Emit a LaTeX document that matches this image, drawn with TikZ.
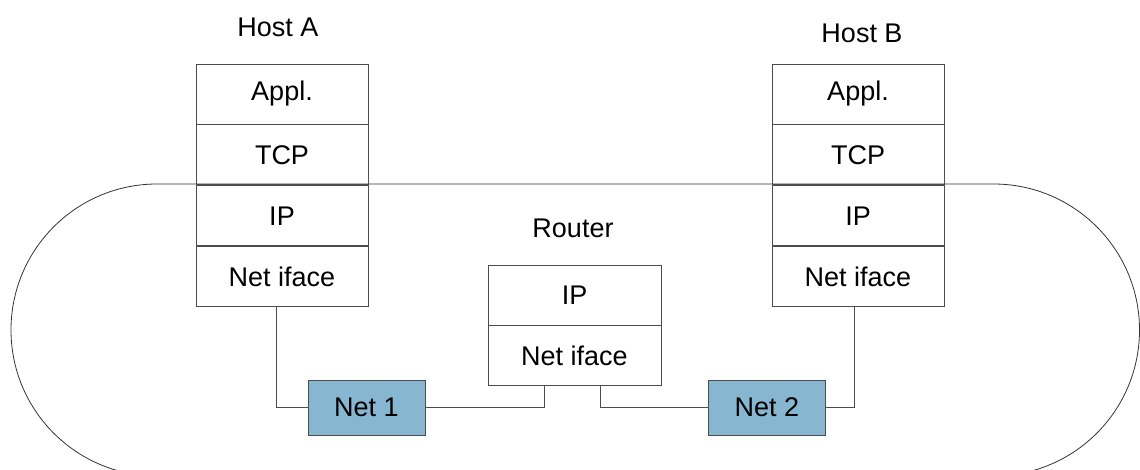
\documentclass[tikz,border=0pt]{standalone}
\usepackage{fontspec}
\setmainfont{Liberation Sans}
\usepackage{tikz}
\usetikzlibrary{positioning}

\definecolor{netblue}{RGB}{134,182,208}

\begin{document}
\begin{tikzpicture}[x=1pt,y=-1pt,line width=0.9pt,draw=black!70,
    font=\fontsize{27}{32}\selectfont,
    layer/.style={draw=black!70,minimum width=172pt,minimum height=60pt,inner sep=0pt},
    netbox/.style={draw=black!70,fill=netblue,minimum width=117pt,minimum height=55pt,inner sep=0pt}]
  \useasboundingbox (0,0) rectangle (1140,470);
  \draw[black!80,line width=0.8pt,rounded corners=146pt] (11,184) rectangle (1139.5,476);

  \node[layer] (aApp) at (282,94) {Appl.};
  \node[layer] (aTcp) [below=0pt of aApp] {TCP};
  \node[layer] (aIp) [below=0pt of aTcp] {IP};
  \node[layer] (aNet) [below=0pt of aIp] {Net iface};
  \node (hostA) at (278,27) {Host A};

  \node[layer] (bApp) at (858,94) {Appl.};
  \node[layer] (bTcp) [below=0pt of bApp] {TCP};
  \node[layer] (bIp) [below=0pt of bTcp] {IP};
  \node[layer] (bNet) [below=0pt of bIp] {Net iface};
  \node (hostB) at (862,33) {Host B};

  \node[layer,minimum width=173pt] (rIp) at (574.5,295) {IP};
  \node[layer,minimum width=173pt] (rNet) [below=0pt of rIp] {Net iface};
  \node (router) at (573,228) {Router};

  \node[netbox] (net1) at (366.5,407.5) {Net 1};
  \node[netbox] (net2) at (767,407.5) {Net 2};

  \draw ([xshift=-6pt]aNet.south) |- (net1.west);
  \draw (net1.east) -| ([xshift=-30.5pt]rNet.south);
  \draw ([xshift=25.5pt]rNet.south) |- (net2.west);
  \draw (net2.east) -| ([xshift=-4pt]bNet.south);
\end{tikzpicture}
\end{document}
